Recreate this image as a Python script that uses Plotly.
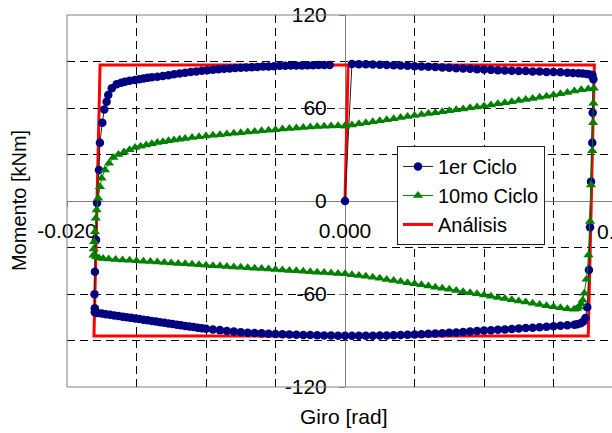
import plotly.graph_objects as go

# ---------------- data ----------------
# 1er Ciclo (first cycle)
c1_start_x = [0.0]
c1_start_y = [0.0]
c1_top_r_x = [0.0005, 0.0010, 0.0015, 0.0020, 0.0025, 0.0030, 0.0035, 0.0040, 0.0045, 0.0050,
              0.0055, 0.0060, 0.0065, 0.0070, 0.0075, 0.0080, 0.0085, 0.0090, 0.0095, 0.0100,
              0.0105, 0.0110, 0.0115, 0.0120, 0.0125, 0.0130, 0.0135, 0.0140, 0.0145, 0.0150,
              0.0155, 0.0160, 0.0164, 0.0168, 0.0171, 0.0174, 0.0176, 0.0178]
c1_top_r_y = [88.4, 88.3, 88.2, 88.0, 87.9, 87.7, 87.6, 87.4, 87.2, 87.0,
              86.8, 86.6, 86.4, 86.1, 85.9, 85.7, 85.5, 85.3, 85.0, 84.8,
              84.6, 84.4, 84.2, 84.1, 83.9, 83.8, 83.6, 83.5, 83.3, 83.2,
              83.0, 82.8, 82.6, 82.4, 82.2, 81.9, 81.6, 81.3]
c1_right_x = [0.01787, 0.01782, 0.01779, 0.01770, 0.01763, 0.01755, 0.01743, 0.01730, 0.01715, 0.01695, 0.01670]
c1_right_y = [78.5, 57.0, 37.6, 12.5, -17.0, -44.5, -68.6, -75.5, -77.8, -78.8, -79.5]
c1_bot_x = [0.0165, 0.0160, 0.0155, 0.0150, 0.0145, 0.0140, 0.0135, 0.0130, 0.0125, 0.0120,
            0.0115, 0.0110, 0.0105, 0.0100, 0.0095, 0.0090, 0.0085, 0.0080, 0.0075, 0.0070,
            0.0065, 0.0060, 0.0055, 0.0050, 0.0045, 0.0040, 0.0035, 0.0030, 0.0025, 0.0020,
            0.0015, 0.0010, 0.0005, 0.0000, -0.0005, -0.0010, -0.0015, -0.0020, -0.0025, -0.0030,
            -0.0035, -0.0040, -0.0045, -0.0050, -0.0055, -0.0060, -0.0065, -0.0070, -0.0075, -0.0080,
            -0.0085, -0.0090, -0.0095, -0.0100, -0.0103, -0.0106, -0.0109, -0.0112, -0.0115, -0.0118,
            -0.0121, -0.0124, -0.0127, -0.0130, -0.0133, -0.0136, -0.0139, -0.0142, -0.0145, -0.0148,
            -0.0151, -0.0154, -0.0157, -0.0160, -0.0163, -0.0166, -0.0169, -0.0172, -0.0175, -0.0178,
            -0.0180]
c1_bot_y = [-79.9, -80.2, -80.5, -80.8, -81.1, -81.4, -81.7, -82.0, -82.3, -82.6,
            -82.9, -83.1, -83.4, -83.6, -83.9, -84.2, -84.5, -84.8, -85.0, -85.3,
            -85.5, -85.7, -85.9, -86.1, -86.3, -86.4, -86.6, -86.7, -86.8, -86.9,
            -86.9, -87.0, -87.0, -86.9, -86.9, -86.8, -86.7, -86.6, -86.5, -86.4,
            -86.3, -86.1, -86.0, -85.8, -85.6, -85.4, -85.2, -85.0, -84.6, -84.2,
            -83.8, -83.3, -82.9, -82.4, -82.1, -81.7, -81.3, -81.0, -80.6, -80.2,
            -79.8, -79.4, -79.0, -78.6, -78.2, -77.8, -77.4, -77.0, -76.6, -76.2,
            -75.8, -75.4, -75.0, -74.6, -74.2, -73.8, -73.4, -73.0, -72.6, -72.2,
            -71.7]
c1_left_x = [-0.01800, -0.01802, -0.01799, -0.01791, -0.01784, -0.01770, -0.01763, -0.01746, -0.01732, -0.01715,
             -0.01703, -0.01678, -0.01643, -0.01610, -0.01583, -0.01550, -0.01511, -0.01480, -0.01450, -0.01420,
             -0.01390]
c1_left_y = [-69.2, -60.2, -45.6, -25.0, -1.3, 20.0, 37.6, 50.5, 59.1, 64.0,
             68.4, 72.7, 75.3, 76.3, 77.0, 77.6, 78.0, 78.5, 79.0, 79.5,
             79.8]
c1_top_l_x = [-0.0135, -0.0131, -0.0127, -0.0123, -0.0119, -0.0115, -0.0111, -0.0107, -0.0103, -0.0099,
              -0.0095, -0.0091, -0.0087, -0.0083, -0.0079, -0.0075, -0.0071, -0.0067, -0.0063, -0.0059,
              -0.0055, -0.0051, -0.0047, -0.0043, -0.0039, -0.0035, -0.0031, -0.0027, -0.0023, -0.0019,
              -0.0015, -0.0011]
c1_top_l_y = [80.2, 80.7, 81.2, 81.7, 82.2, 82.8, 83.2, 83.6, 84.0, 84.4,
              84.7, 85.0, 85.3, 85.5, 85.8, 86.0, 86.2, 86.3, 86.5, 86.7,
              86.8, 87.0, 87.2, 87.3, 87.4, 87.5, 87.5, 87.6, 87.6, 87.7,
              87.7, 87.7]

# 10mo Ciclo (tenth cycle)
c10_top_r_x = [0.0000, 0.0005, 0.0010, 0.0015, 0.0020, 0.0025, 0.0030, 0.0035, 0.0040, 0.0045,
               0.0050, 0.0055, 0.0060, 0.0065, 0.0070, 0.0075, 0.0080, 0.0085, 0.0090, 0.0095,
               0.0100, 0.0105, 0.0110, 0.0115, 0.0120, 0.0125, 0.0130, 0.0135, 0.0140, 0.0145,
               0.0150, 0.0155, 0.0160, 0.0165, 0.0170, 0.0175, 0.0179]
c10_top_r_y = [48.4, 49.1, 49.8, 50.5, 51.2, 51.8, 52.5, 53.1, 53.8, 54.5,
               55.2, 55.8, 56.4, 57.0, 57.6, 58.2, 58.8, 59.4, 60.1, 60.7,
               61.3, 62.0, 62.7, 63.4, 64.1, 64.8, 65.5, 66.2, 66.9, 67.6,
               68.4, 69.2, 70.0, 70.9, 71.7, 72.3, 72.7]
c10_right_x = [0.01787, 0.01785, 0.01779, 0.01770, 0.01763, 0.01752, 0.01738, 0.01722, 0.01710, 0.01698,
               0.01683, 0.01665, 0.01648]
c10_right_y = [63.0, 50.5, 32.5, 10.3, -13.3, -34.8, -50.5, -59.5, -64.0, -66.5,
               -68.5, -69.5, -69.9]
c10_bot_x = [0.0160, 0.0155, 0.0150, 0.0145, 0.0140, 0.0135, 0.0130, 0.0125, 0.0120, 0.0115,
             0.0110, 0.0105, 0.0100, 0.0095, 0.0090, 0.0085, 0.0080, 0.0075, 0.0070, 0.0065,
             0.0060, 0.0055, 0.0050, 0.0045, 0.0040, 0.0035, 0.0030, 0.0025, 0.0020, 0.0015,
             0.0010, 0.0005, 0.0000, -0.0005, -0.0010, -0.0015, -0.0020, -0.0025, -0.0030, -0.0035,
             -0.0040, -0.0045, -0.0050, -0.0055, -0.0060, -0.0065, -0.0070, -0.0075, -0.0080, -0.0085,
             -0.0090, -0.0095, -0.0100, -0.0105, -0.0110, -0.0115, -0.0120, -0.0125, -0.0130, -0.0135,
             -0.0140, -0.0145, -0.0150, -0.0155, -0.0160, -0.0165, -0.0170, -0.0174, -0.0177, -0.0179,
             -0.0181]
c10_bot_y = [-69.5, -68.9, -68.2, -67.5, -66.7, -66.0, -65.2, -64.5, -63.7, -62.9,
             -62.2, -61.4, -60.7, -59.9, -59.2, -58.5, -57.7, -57.0, -56.3, -55.6,
             -54.8, -54.1, -53.4, -52.7, -52.0, -51.3, -50.6, -49.9, -49.2, -48.6,
             -48.0, -47.5, -47.0, -46.7, -46.4, -46.1, -45.9, -45.6, -45.3, -45.0,
             -44.8, -44.5, -44.2, -43.9, -43.6, -43.4, -43.1, -42.8, -42.5, -42.2,
             -42.0, -41.7, -41.4, -41.1, -40.8, -40.5, -40.3, -40.0, -39.7, -39.4,
             -39.1, -38.8, -38.5, -38.3, -38.0, -37.7, -37.4, -37.1, -36.7, -36.0,
             -35.0]
c10_left_x = [-0.01808, -0.01805, -0.01799, -0.01793, -0.01787, -0.01776, -0.01763, -0.01751, -0.01727, -0.01698,
              -0.01667]
c10_left_y = [-31.0, -26.3, -19.8, -11.2, -5.8, 1.7, 9.2, 14.6, 20.0, 24.3,
              28.0]
c10_top_l_x = [-0.0163, -0.0159, -0.0155, -0.0151, -0.0147, -0.0143, -0.0139, -0.0135, -0.0131, -0.0127,
               -0.0123, -0.0119, -0.0115, -0.0110, -0.0105, -0.0100, -0.0095, -0.0090, -0.0085, -0.0080,
               -0.0075, -0.0070, -0.0065, -0.0060, -0.0055, -0.0050, -0.0045, -0.0040, -0.0035, -0.0030,
               -0.0025, -0.0020, -0.0015, -0.0010, -0.0005, 0.0000]
c10_top_l_y = [30.0, 31.6, 33.0, 34.5, 35.4, 36.2, 37.0, 37.7, 38.3, 38.9,
               39.4, 39.9, 40.4, 40.9, 41.4, 41.9, 42.4, 42.8, 43.2, 43.7,
               44.1, 44.5, 44.9, 45.3, 45.7, 46.0, 46.4, 46.8, 47.1, 47.4,
               47.7, 48.0, 48.2, 48.4, 48.5, 48.4]

# Análisis (bilinear model)
an_x = [0.0, 0.00022, 0.01794, 0.01750, -0.01806, -0.01762, 0.01794]
an_y = [0.0, 87.7, 87.7, -87.1, -87.1, 87.7, 87.7]

# axis ticks
x_tickvals = [-0.02, 0.0]
x_ticktext = ["-0.020", "0.000"]
x_cut_label = "0.020"
y_tickvals = [-120, -60, 0, 60, 120]
y_ticktext = ["-120", "-60", "0", "60", "120"]

c1_x = c1_start_x + c1_top_r_x + c1_right_x + c1_bot_x + c1_left_x + c1_top_l_x
c1_y = c1_start_y + c1_top_r_y + c1_right_y + c1_bot_y + c1_left_y + c1_top_l_y
c10_x = c10_top_r_x + c10_right_x + c10_bot_x + c10_left_x + c10_top_l_x
c10_y = c10_top_r_y + c10_right_y + c10_bot_y + c10_left_y + c10_top_l_y

# ---------------- figure ----------------
FONT = "Liberation Sans, Arial, sans-serif"
fig = go.Figure()

fig.add_trace(go.Scatter(
    x=an_x, y=an_y, mode="lines", name="Análisis",
    line=dict(color="#FF0000", width=3), legendrank=3))
fig.add_trace(go.Scatter(
    x=c1_x, y=c1_y, mode="lines+markers", name="1er Ciclo",
    line=dict(color="#202020", width=1),
    marker=dict(symbol="circle", size=8.5, color="#000080"), legendrank=1))
fig.add_trace(go.Scatter(
    x=c10_x, y=c10_y, mode="lines+markers", name="10mo Ciclo",
    line=dict(color="#008000", width=1),
    marker=dict(symbol="triangle-up", size=9, color="#008000"), legendrank=2))

grid = dict(showgrid=True, gridcolor="black", gridwidth=1, griddash="8px,5px")

fig.update_xaxes(
    range=[-0.020, 0.019209], anchor="free", position=0.5, automargin=False,
    tickmode="array", tickvals=x_tickvals, ticktext=x_ticktext,
    showline=True, linecolor="#808080", linewidth=1,
    ticks="outside", ticklen=5, tickcolor="#808080", ticklabelstandoff=6,
    zeroline=False, layer="below traces",
    minor=dict(dtick=0.005, tick0=0, ticks="", showgrid=True,
               gridcolor="black", gridwidth=1, griddash="8px,5px"),
    tickfont=dict(family=FONT, size=21, color="black"),
    **grid)
fig.update_yaxes(
    range=[-120, 120], anchor="free", position=(345 - 67) / 545, automargin=False,
    tickmode="array", tickvals=y_tickvals, ticktext=y_ticktext,
    showline=True, linecolor="#808080", linewidth=1,
    ticks="outside", ticklen=6, tickcolor="#808080", ticklabelstandoff=8,
    zeroline=False, layer="below traces",
    minor=dict(dtick=30, tick0=0, ticks="", showgrid=True,
               gridcolor="black", gridwidth=1, griddash="8px,5px"),
    tickfont=dict(family=FONT, size=21, color="black"),
    **grid)

fig.update_layout(
    width=612, height=433,
    margin=dict(l=67, r=0, t=15, b=46, pad=0, autoexpand=False),
    paper_bgcolor="white", plot_bgcolor="white",
    font=dict(family=FONT, size=21, color="black"),
    showlegend=True,
    legend=dict(x=0.6055, y=0.648, xanchor="left", yanchor="top",
                bgcolor="white", bordercolor="#202020", borderwidth=1,
                font=dict(family=FONT, size=20, color="black"),
                tracegroupgap=0, itemwidth=30),
    shapes=[dict(type="rect", xref="paper", yref="paper", x0=0, x1=1.2, y0=0, y1=1,
                 line=dict(color="#808080", width=1), layer="above")],
    annotations=[
        dict(text="Momento [kNm]", xref="paper", yref="paper", x=-0.088, y=0.5,
             textangle=-90, showarrow=False, xanchor="center", yanchor="middle",
             font=dict(family=FONT, size=20, color="black")),
        dict(text="Giro [rad]", xref="paper", yref="paper", x=0.509, y=-0.08,
             showarrow=False, xanchor="center", yanchor="middle",
             font=dict(family=FONT, size=21, color="black")),
        dict(text=x_cut_label, xref="paper", yref="paper", x=1.0202, y=0.5, yshift=-30,
             showarrow=False, xanchor="center", yanchor="middle",
             font=dict(family=FONT, size=21, color="black")),
    ],
)

fig.write_html(
    "out.html",
    config={"displayModeBar": False},
    post_script="document.body.style.margin='0';document.body.style.padding='0';"
                "document.documentElement.style.margin='0';",
)
